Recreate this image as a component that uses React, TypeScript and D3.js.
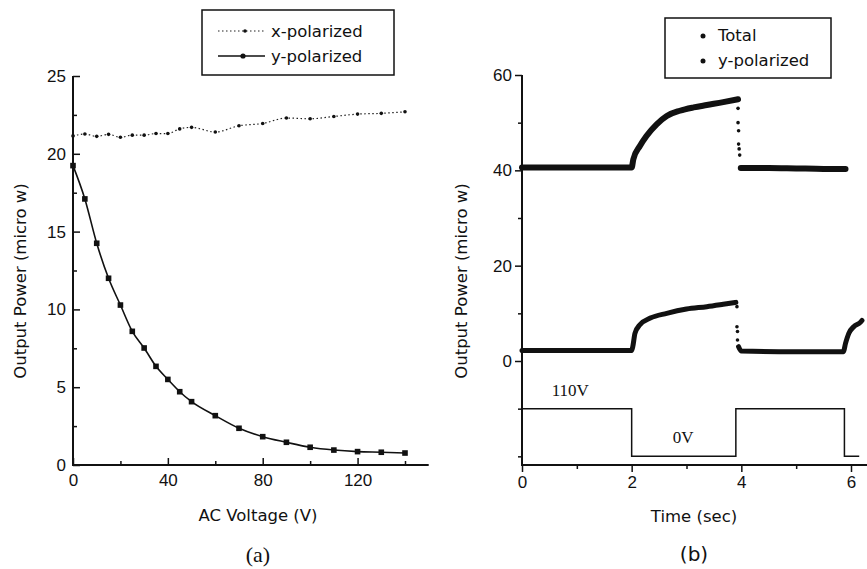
import * as d3 from "d3";
import React, { useEffect, useRef } from "react";

// (a) output power vs AC voltage
const voltage = [0, 5, 10, 15, 20, 25, 30, 35, 40, 45, 50, 60, 70, 80, 90, 100, 110, 120, 130, 140];
const xPolarized = [21.15, 21.27, 21.12, 21.25, 21.06, 21.2, 21.2, 21.3, 21.3, 21.6, 21.7, 21.4, 21.8, 21.95, 22.3, 22.25, 22.4, 22.55, 22.6, 22.7];
const yPolarized = [19.24, 17.1, 14.25, 12.0, 10.28, 8.59, 7.52, 6.34, 5.5, 4.71, 4.07, 3.17, 2.36, 1.82, 1.46, 1.14, 0.96, 0.86, 0.82, 0.77];
const leftYTicks = [0, 5, 10, 15, 20, 25];
const leftYMinor = [2.5, 7.5, 12.5, 17.5, 22.5];
const leftXTicks = [0, 40, 80, 120];
const leftXMinor = [20, 60, 100, 140];

// (b) output power vs time
const totalRiseTime = [0, 1, 2.0, 2.03, 2.15, 2.27, 2.46, 2.64, 2.88, 3.13, 3.37, 3.67, 3.94];
const totalRisePower = [40.6, 40.6, 40.6, 42.3, 45.1, 47.2, 49.7, 51.4, 52.5, 53.2, 53.7, 54.3, 54.9];
const totalDropTime = [3.94, 3.94, 3.95, 3.95, 3.96, 3.97];
const totalDropPower = [53, 50, 48.3, 45.5, 44.5, 43.2];
const totalFallTime = [3.99, 4.5, 5.0, 5.5, 5.9];
const totalFallPower = [40.5, 40.5, 40.4, 40.3, 40.3];

const yRiseTime = [0, 1, 2.0, 2.02, 2.06, 2.15, 2.34, 2.64, 3.0, 3.37, 3.67, 3.9];
const yRisePower = [2.2, 2.2, 2.2, 3.0, 5.8, 7.6, 9.0, 10.0, 10.9, 11.4, 11.9, 12.3];
const yDropTime = [3.92, 3.92, 3.93, 3.93];
const yDropPower = [11.4, 7.2, 6.2, 4.4];
const yFallTime = [3.95, 4.0, 5.0, 5.86, 5.9, 5.96, 6.05, 6.17, 6.2];
const yFallPower = [3.0, 2.1, 1.95, 1.95, 3.7, 5.8, 7.2, 8.1, 8.5];

const voltTime = [0, 2.0, 3.9, 5.88, 6.15];
const voltLevel = [-10, -20, -10, -20, -20];
const rightYTicks = [0, 20, 40, 60];
const rightYMinor = [-20, -10, 10, 30, 50];
const rightXTicks = [0, 2, 4, 6];
const rightXMinor = [1, 3, 5];

const W = 867;
const H = 569;
const SANS = "'Liberation Sans', Arial, sans-serif";
const TITLE = "'DejaVu Sans', sans-serif";
const SERIF = "'Liberation Serif', 'Times New Roman', serif";
const INK = "#111";

const App = () => {
  const ref = useRef<SVGSVGElement | null>(null);

  useEffect(() => {
    const svg = d3.select(ref.current);
    svg.selectAll("*").remove();
    drawLeft(svg);
    drawRight(svg);
  }, []);

  const noDomain = (a: any) => a.select(".domain").remove();

  const drawLeft = (svg: any) => {
    const x = d3.scaleLinear().domain([0, 140]).range([73, 405]);
    const y = d3.scaleLinear().domain([0, 25]).range([465, 76]);
    const g = svg.append("g");

    // axes, ticks pointing inward
    g.append("g").attr("transform", "translate(73,0)")
      .call(d3.axisLeft(y).tickValues(leftYTicks).tickSize(-7).tickSizeOuter(0).tickPadding(7))
      .call(noDomain);
    g.append("g").attr("transform", "translate(73,0)")
      .call(d3.axisLeft(y).tickValues(leftYMinor).tickSize(-4).tickFormat(() => ""))
      .call(noDomain);
    g.append("g").attr("transform", "translate(0,465)")
      .call(d3.axisBottom(x).tickValues(leftXTicks).tickSize(-7).tickSizeOuter(0).tickPadding(9))
      .call(noDomain);
    g.append("g").attr("transform", "translate(0,465)")
      .call(d3.axisBottom(x).tickValues(leftXMinor).tickSize(-4).tickFormat(() => ""))
      .call(noDomain);
    g.selectAll(".tick line").attr("stroke", INK).attr("stroke-width", 1.5);
    g.selectAll(".tick text").attr("font-family", SANS).attr("font-size", 17).attr("fill", INK);

    g.append("line").attr("x1", 73).attr("x2", 73).attr("y1", y(25)).attr("y2", 466)
      .attr("stroke", INK).attr("stroke-width", 2);
    g.append("line").attr("x1", 72).attr("x2", x(150)).attr("y1", 465).attr("y2", 465)
      .attr("stroke", INK).attr("stroke-width", 2);

    const line = d3.line<number>().x((d, i) => x(voltage[i])).y((d) => y(d)).curve(d3.curveMonotoneX);

    // x-polarized
    g.append("path").datum(xPolarized).attr("d", line)
      .attr("fill", "none").attr("stroke", "#222").attr("stroke-width", 1.2)
      .attr("stroke-dasharray", "1.5,2.5");
    g.append("g").selectAll("circle").data(xPolarized).enter().append("circle")
      .attr("cx", (d: number, i: number) => x(voltage[i])).attr("cy", (d: number) => y(d))
      .attr("r", 1.8).attr("fill", INK);

    // y-polarized
    g.append("path").datum(yPolarized).attr("d", line)
      .attr("fill", "none").attr("stroke", INK).attr("stroke-width", 1.6);
    g.append("g").selectAll("rect").data(yPolarized).enter().append("rect")
      .attr("x", (d: number, i: number) => x(voltage[i]) - 2.8).attr("y", (d: number) => y(d) - 2.8)
      .attr("width", 5.6).attr("height", 5.6).attr("fill", INK);

    // legend
    g.append("rect").attr("x", 202).attr("y", 10).attr("width", 192).attr("height", 65)
      .attr("fill", "#fff").attr("stroke", INK).attr("stroke-width", 1.5);
    g.append("line").attr("x1", 218).attr("x2", 265).attr("y1", 31).attr("y2", 31)
      .attr("stroke", "#222").attr("stroke-width", 1.2).attr("stroke-dasharray", "1.5,2.5");
    g.append("circle").attr("cx", 245).attr("cy", 31).attr("r", 1.8).attr("fill", INK);
    g.append("line").attr("x1", 218).attr("x2", 265).attr("y1", 56).attr("y2", 56)
      .attr("stroke", INK).attr("stroke-width", 1.6);
    g.append("circle").attr("cx", 243).attr("cy", 56).attr("r", 2.6).attr("fill", INK);
    g.append("text").attr("x", 271).attr("y", 37).text("x-polarized")
      .attr("font-family", TITLE).attr("font-size", 16.5).attr("fill", INK);
    g.append("text").attr("x", 271).attr("y", 62).text("y-polarized")
      .attr("font-family", TITLE).attr("font-size", 16.5).attr("fill", INK);

    // titles
    g.append("text").attr("transform", "translate(26,281) rotate(-90)").attr("text-anchor", "middle")
      .text("Output Power (micro w)").attr("font-family", TITLE).attr("font-size", 16.5).attr("fill", INK);
    g.append("text").attr("x", 258).attr("y", 521).attr("text-anchor", "middle")
      .text("AC Voltage (V)").attr("font-family", TITLE).attr("font-size", 16.5).attr("fill", INK);
    g.append("text").attr("x", 258).attr("y", 562).attr("text-anchor", "middle")
      .text("(a)").attr("font-family", SERIF).attr("font-size", 22).attr("fill", INK);
  };

  const drawRight = (svg: any) => {
    const x = d3.scaleLinear().domain([0, 6]).range([522, 851]);
    const y = d3.scaleLinear().domain([0, 60]).range([361, 75]);
    const g = svg.append("g");

    // axes, ticks pointing outward
    g.append("g").attr("transform", "translate(522,0)")
      .call(d3.axisLeft(y).tickValues(rightYTicks).tickSize(7).tickSizeOuter(0).tickPadding(3))
      .call(noDomain);
    g.append("g").attr("transform", "translate(522,0)")
      .call(d3.axisLeft(y).tickValues(rightYMinor).tickSize(4).tickFormat(() => ""))
      .call(noDomain);
    g.append("g").attr("transform", "translate(0,465)")
      .call(d3.axisBottom(x).tickValues(rightXTicks).tickSize(7).tickSizeOuter(0).tickPadding(4)
        .tickFormat(d3.format("d")))
      .call(noDomain);
    g.append("g").attr("transform", "translate(0,465)")
      .call(d3.axisBottom(x).tickValues(rightXMinor).tickSize(4).tickFormat(() => ""))
      .call(noDomain);
    g.selectAll(".tick line").attr("stroke", INK).attr("stroke-width", 1.5);
    g.selectAll(".tick text").attr("font-family", SANS).attr("font-size", 17).attr("fill", INK);

    g.append("line").attr("x1", 522).attr("x2", 522).attr("y1", y(60)).attr("y2", 466)
      .attr("stroke", INK).attr("stroke-width", 2);
    g.append("line").attr("x1", 521).attr("x2", x(6.3)).attr("y1", 465).attr("y2", 465)
      .attr("stroke", INK).attr("stroke-width", 2);

    // dense scatter drawn as thick bands, sparse drop points as dots
    const band = (t: number[], p: number[], w: number) => {
      const line = d3.line<number>().x((d, i) => x(t[i])).y((d) => y(d)).curve(d3.curveMonotoneX);
      g.append("path").datum(p).attr("d", line)
        .attr("fill", "none").attr("stroke", INK).attr("stroke-width", w)
        .attr("stroke-linecap", "round").attr("stroke-linejoin", "round");
    };
    const dots = (t: number[], p: number[]) => {
      g.append("g").selectAll("circle").data(p).enter().append("circle")
        .attr("cx", (d: number, i: number) => x(t[i])).attr("cy", (d: number) => y(d))
        .attr("r", 1.8).attr("fill", INK);
    };

    band(totalRiseTime, totalRisePower, 6);
    dots(totalDropTime, totalDropPower);
    band(totalFallTime, totalFallPower, 6);
    band(yRiseTime, yRisePower, 5);
    dots(yDropTime, yDropPower);
    band(yFallTime, yFallPower, 5);

    // applied voltage square wave
    const step = d3.line<number>().x((d, i) => x(voltTime[i])).y((d) => y(d)).curve(d3.curveStepAfter);
    g.append("path").datum(voltLevel).attr("d", step)
      .attr("fill", "none").attr("stroke", INK).attr("stroke-width", 1.5);
    g.append("text").attr("x", x(0.88)).attr("y", y(-7.3)).attr("text-anchor", "middle")
      .text("110V").attr("font-family", SERIF).attr("font-size", 17).attr("fill", INK);
    g.append("text").attr("x", x(2.94)).attr("y", y(-17.2)).attr("text-anchor", "middle")
      .text("0V").attr("font-family", SERIF).attr("font-size", 17).attr("fill", INK);

    // legend
    g.append("rect").attr("x", 665).attr("y", 18).attr("width", 166).attr("height", 60)
      .attr("fill", "#fff").attr("stroke", INK).attr("stroke-width", 1.5);
    g.append("circle").attr("cx", 703).attr("cy", 36).attr("r", 2.5).attr("fill", INK);
    g.append("circle").attr("cx", 703).attr("cy", 61).attr("r", 2.5).attr("fill", INK);
    g.append("text").attr("x", 718).attr("y", 41).text("Total")
      .attr("font-family", TITLE).attr("font-size", 16.5).attr("fill", INK);
    g.append("text").attr("x", 718).attr("y", 66).text("y-polarized")
      .attr("font-family", TITLE).attr("font-size", 16.5).attr("fill", INK);

    // titles
    g.append("text").attr("transform", "translate(467,281) rotate(-90)").attr("text-anchor", "middle")
      .text("Output Power (micro w)").attr("font-family", TITLE).attr("font-size", 16.5).attr("fill", INK);
    g.append("text").attr("x", 694).attr("y", 522).attr("text-anchor", "middle")
      .text("Time (sec)").attr("font-family", TITLE).attr("font-size", 16.5).attr("fill", INK);
    g.append("text").attr("x", 694).attr("y", 561).attr("text-anchor", "middle")
      .text("(b)").attr("font-family", TITLE).attr("font-size", 20).attr("fill", INK);
  };

  return (
    <svg
      ref={ref}
      width={W}
      height={H}
      style={{ position: "absolute", left: 0, top: 0, background: "#fff" }}
    />
  );
};

export default App;
